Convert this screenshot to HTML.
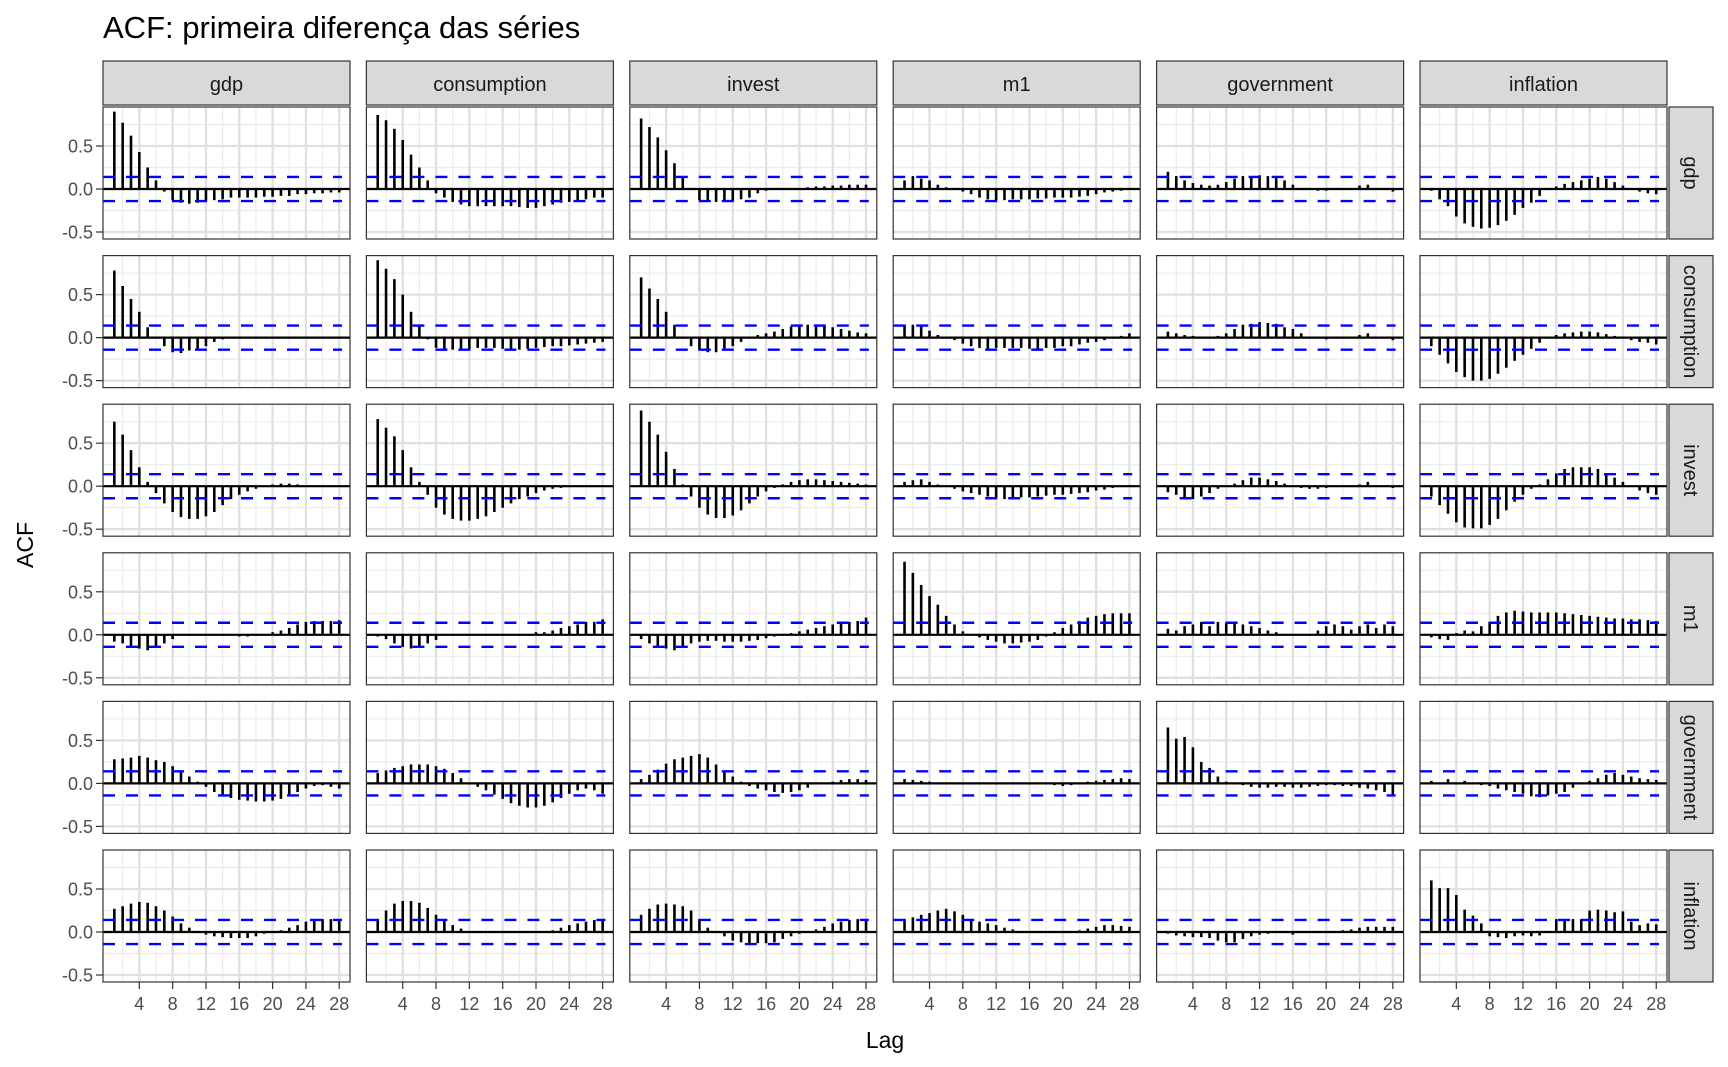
<!DOCTYPE html>
<html><head><meta charset="utf-8">
<style>html,body{margin:0;padding:0;background:#fff;}svg{display:block;}</style>
</head><body>
<svg id="s" width="1728" height="1067" xmlns="http://www.w3.org/2000/svg" font-family="Liberation Sans, Arial, sans-serif"></svg>
<script>
var D=[
[[.9,.77,.62,.43,.25,.1,-.03,-.13,-.16,-.17,-.16,-.14,-.13,-.12,-.1,-.1,-.1,-.1,-.09,-.09,-.08,-.08,-.06,-.06,-.05,-.05,-.04,-.04],
[.86,.8,.7,.57,.4,.25,.1,-.05,-.1,-.15,-.18,-.2,-.2,-.2,-.2,-.2,-.2,-.21,-.22,-.22,-.2,-.18,-.16,-.15,-.13,-.12,-.1,-.1],
[.82,.72,.6,.45,.3,.15,0,-.13,-.15,-.15,-.15,-.14,-.12,-.1,-.05,-.02,0,0,0,0,.02,.03,.03,.04,.04,.05,.05,.05],
[.1,.15,.12,.1,.05,.02,0,-.03,-.06,-.1,-.12,-.13,-.13,-.12,-.12,-.12,-.11,-.11,-.1,-.1,-.1,-.09,-.08,-.06,-.04,-.03,-.02,-.01],
[.2,.15,.1,.07,.05,.04,.05,.08,.12,.15,.15,.16,.15,.14,.1,.05,0,0,-.02,-.02,0,0,0,.04,.05,0,0,-.03],
[-.02,-.12,-.2,-.32,-.4,-.44,-.46,-.45,-.42,-.37,-.3,-.22,-.16,-.08,0,.03,.06,.08,.1,.12,.14,.12,.08,.04,0,-.03,-.05,-.06]],
[[.78,.6,.45,.3,.12,0,-.1,-.17,-.18,-.15,-.14,-.1,-.05,-.02,0,0,0,0,0,0,0,0,0,0,0,0,0,-.01],
[.9,.8,.68,.5,.3,.15,-.02,-.12,-.13,-.14,-.15,-.14,-.12,-.12,-.12,-.13,-.14,-.14,-.13,-.12,-.11,-.1,-.1,-.09,-.08,-.07,-.06,-.05],
[.7,.57,.45,.3,.15,0,-.1,-.15,-.17,-.17,-.15,-.1,-.05,0,.03,.05,.07,.1,.13,.14,.15,.15,.14,.12,.1,.08,.06,.05],
[.15,.15,.13,.08,.03,0,-.03,-.07,-.1,-.12,-.13,-.12,-.12,-.12,-.12,-.13,-.13,-.12,-.12,-.1,-.1,-.08,-.06,-.05,-.03,0,.02,.05],
[.07,.05,.03,.02,0,0,.02,.05,.1,.15,.16,.18,.17,.16,.12,.1,.05,0,0,-.02,0,0,0,.03,.05,0,0,-.03],
[-.1,-.2,-.3,-.4,-.46,-.5,-.5,-.48,-.42,-.35,-.27,-.2,-.13,-.06,0,.03,.05,.06,.07,.07,.06,.04,.02,0,-.03,-.05,-.06,-.08]],
[[.75,.6,.42,.22,.05,-.08,-.2,-.3,-.36,-.38,-.38,-.35,-.3,-.22,-.15,-.1,-.06,-.03,0,.02,.03,.03,.02,0,0,0,0,0],
[.78,.68,.58,.42,.22,.05,-.1,-.25,-.33,-.38,-.4,-.4,-.38,-.35,-.3,-.25,-.2,-.15,-.12,-.08,-.05,-.03,-.02,0,0,0,0,0],
[.88,.75,.6,.4,.2,.02,-.12,-.25,-.33,-.37,-.37,-.34,-.28,-.2,-.12,-.06,-.02,.02,.05,.07,.08,.08,.07,.06,.05,.04,.03,.02],
[.05,.07,.08,.05,.02,0,-.03,-.06,-.08,-.1,-.12,-.14,-.15,-.14,-.13,-.13,-.12,-.11,-.1,-.1,-.09,-.08,-.07,-.05,-.04,-.02,0,.01],
[-.07,-.1,-.14,-.15,-.12,-.08,-.03,0,.03,.07,.1,.1,.08,.06,.03,0,-.02,-.03,-.03,-.02,0,0,0,.02,.05,0,0,-.02],
[-.12,-.22,-.32,-.42,-.48,-.49,-.49,-.45,-.38,-.28,-.18,-.1,-.03,.02,.08,.15,.2,.22,.22,.22,.2,.15,.1,.05,0,-.05,-.08,-.1]],
[[-.08,-.1,-.14,-.16,-.18,-.15,-.1,-.05,0,0,0,0,0,0,0,-.02,-.02,0,0,.03,.05,.08,.12,.15,.16,.16,.16,.17],
[-.02,-.05,-.1,-.14,-.16,-.15,-.1,-.06,0,0,0,0,0,0,0,0,0,0,0,.03,.03,.05,.08,.1,.12,.15,.15,.18],
[-.05,-.1,-.13,-.16,-.18,-.14,-.1,-.08,-.07,-.07,-.08,-.08,-.08,-.07,-.06,-.04,-.02,0,.02,.04,.06,.08,.1,.12,.14,.15,.16,.2],
[.85,.72,.58,.45,.35,.22,.12,.04,0,-.03,-.06,-.08,-.1,-.1,-.09,-.08,-.06,-.02,.03,.08,.12,.16,.2,.22,.24,.25,.25,.25],
[.07,.05,.1,.12,.15,.1,.15,.14,.14,.12,.1,.08,.05,.03,0,0,0,0,.05,.1,.12,.1,.06,.1,.12,.08,.12,.1],
[-.03,-.05,-.06,.02,.05,.04,.1,.15,.22,.26,.28,.27,.26,.26,.26,.26,.25,.24,.23,.22,.21,.2,.19,.19,.18,.18,.17,.16]],
[[.28,.29,.3,.32,.3,.27,.25,.2,.14,.08,.02,-.04,-.1,-.14,-.17,-.19,-.2,-.21,-.21,-.2,-.18,-.15,-.1,-.06,-.03,-.02,-.04,-.06],
[.12,.15,.18,.2,.22,.22,.22,.2,.17,.12,.06,0,-.04,-.08,-.13,-.18,-.23,-.26,-.28,-.28,-.26,-.22,-.17,-.12,-.08,-.06,-.08,-.12],
[.05,.1,.16,.23,.28,.3,.32,.34,.3,.22,.15,.08,.02,-.03,-.06,-.08,-.1,-.11,-.1,-.08,-.05,0,0,.02,.04,.05,.05,.04],
[.05,.04,.03,.02,.01,0,0,0,0,0,0,0,0,0,0,0,0,0,-.02,-.03,-.02,0,.02,.03,.04,.05,.06,.05],
[.65,.52,.54,.42,.25,.18,.08,.02,0,-.02,-.04,-.05,-.05,-.04,-.04,-.05,-.05,-.04,-.03,-.02,-.02,-.03,-.03,-.05,-.06,-.08,-.1,-.15],
[.03,0,.05,0,.03,0,-.02,-.03,-.06,-.08,-.1,-.12,-.15,-.16,-.14,-.12,-.1,-.05,0,.03,.06,.1,.12,.1,.08,.06,.05,.04]],
[[.27,.3,.33,.35,.34,.3,.25,.18,.1,.05,0,-.03,-.05,-.06,-.07,-.07,-.07,-.05,-.02,0,.02,.05,.08,.12,.14,.15,.15,.15],
[.15,.25,.33,.36,.36,.34,.28,.2,.14,.08,.04,.01,0,0,0,0,0,0,0,0,0,.02,.05,.08,.1,.12,.14,.15],
[.2,.27,.32,.33,.32,.3,.25,.15,.05,0,-.05,-.1,-.12,-.13,-.13,-.13,-.12,-.08,-.05,-.02,0,.03,.06,.1,.12,.14,.15,.15],
[.15,.17,.2,.22,.25,.27,.24,.2,.15,.12,.1,.08,.05,.03,0,0,0,0,0,0,0,.02,.04,.06,.08,.08,.07,.06],
[-.02,-.04,-.05,-.06,-.06,-.07,-.1,-.12,-.12,-.08,-.05,-.03,-.02,0,0,-.03,0,0,0,0,0,.02,.03,.05,.06,.06,.06,.06],
[.6,.51,.51,.43,.26,.19,.1,-.05,-.06,-.07,-.05,-.04,-.05,-.04,0,.15,.15,.15,.15,.25,.26,.25,.23,.24,.12,.08,.1,.09]]];
var names=["gdp","consumption","invest","m1","government","inflation"];
var L0=103,T0=107,PW=247,PH=132,CP=263.4,RP=148.6;
var o='<text x="103" y="38" font-size="31" fill="#000">ACF: primeira diferença das séries</text>';
function Y(t,v){return t+82-v*86;}
function X(l,l0){return l0+3+l*8.33;}
for(var c=0;c<6;c++){var l=L0+c*CP;
 o+='<rect x="'+l+'" y="61" width="'+PW+'" height="44" fill="#d9d9d9" stroke="#333" stroke-width="1.2"/>';
 o+='<text x="'+(l+PW/2)+'" y="91" font-size="20" fill="#1a1a1a" text-anchor="middle">'+names[c]+'</text>';}
for(var r=0;r<6;r++){var t=T0+r*RP;
 o+='<rect x="1669" y="'+t+'" width="44" height="'+PH+'" fill="#d9d9d9" stroke="#333" stroke-width="1.2"/>';
 o+='<text transform="translate(1684,'+(t+PH/2)+') rotate(90)" font-size="20" fill="#1a1a1a" text-anchor="middle">'+names[r]+'</text>';
 [.5,0,-.5].forEach(function(v){var y=Y(t,v);o+='<line x1="96" x2="103" y1="'+y+'" y2="'+y+'" stroke="#333" stroke-width="1.2"/><text x="93" y="'+(y+6.5)+'" font-size="18" fill="#4d4d4d" text-anchor="end">'+v.toFixed(1)+'</text>';});
 for(var c=0;c<6;c++){var l=L0+c*CP,d=D[r][c];
  o+='<rect x="'+l+'" y="'+t+'" width="'+PW+'" height="'+PH+'" fill="#fff"/>';
  [-.25,.25,.75].forEach(function(v){var y=Y(t,v);o+='<line x1="'+l+'" x2="'+(l+PW)+'" y1="'+y+'" y2="'+y+'" stroke="#ebebeb" stroke-width="1.2"/>';});
  for(var k=2;k<=30;k+=4){var x=X(k,l);if(x<l+PW)o+='<line x1="'+x+'" x2="'+x+'" y1="'+t+'" y2="'+(t+PH)+'" stroke="#ebebeb" stroke-width="1.2"/>';}
  [-.5,0,.5].forEach(function(v){var y=Y(t,v);o+='<line x1="'+l+'" x2="'+(l+PW)+'" y1="'+y+'" y2="'+y+'" stroke="#e0e0e0" stroke-width="2.3"/>';});
  for(var k=4;k<=28;k+=4){var x=X(k,l);o+='<line x1="'+x+'" x2="'+x+'" y1="'+t+'" y2="'+(t+PH)+'" stroke="#e0e0e0" stroke-width="2.3"/>';}
  var y0=Y(t,0);
  for(var i=0;i<28;i++){var x=X(i+1,l);o+='<line x1="'+x+'" x2="'+x+'" y1="'+y0+'" y2="'+Y(t,d[i])+'" stroke="#000" stroke-width="2.6"/>';}
  o+='<line x1="'+l+'" x2="'+(l+PW)+'" y1="'+y0+'" y2="'+y0+'" stroke="#000" stroke-width="2.2"/>';
  [.14,-.14].forEach(function(v){var y=Y(t,v);o+='<line x1="'+l+'" x2="'+(l+PW-8)+'" y1="'+y+'" y2="'+y+'" stroke="#0000ff" stroke-width="2.4" stroke-dasharray="12,11"/>';});
  o+='<rect x="'+l+'" y="'+t+'" width="'+PW+'" height="'+PH+'" fill="none" stroke="#333" stroke-width="1.2"/>';
  if(r==5){for(var k=4;k<=28;k+=4){var x=X(k,l);o+='<line x1="'+x+'" x2="'+x+'" y1="'+(t+PH)+'" y2="'+(t+PH+7)+'" stroke="#333" stroke-width="1.2"/><text x="'+x+'" y="'+(t+PH+28)+'" font-size="18" fill="#4d4d4d" text-anchor="middle">'+k+'</text>';}}
 }}
o+='<text x="885" y="1048" font-size="23" fill="#000" text-anchor="middle">Lag</text>';
o+='<text transform="translate(33,545) rotate(-90)" font-size="23" fill="#000" text-anchor="middle">ACF</text>';
document.getElementById('s').innerHTML=o;
</script>
</body></html>
